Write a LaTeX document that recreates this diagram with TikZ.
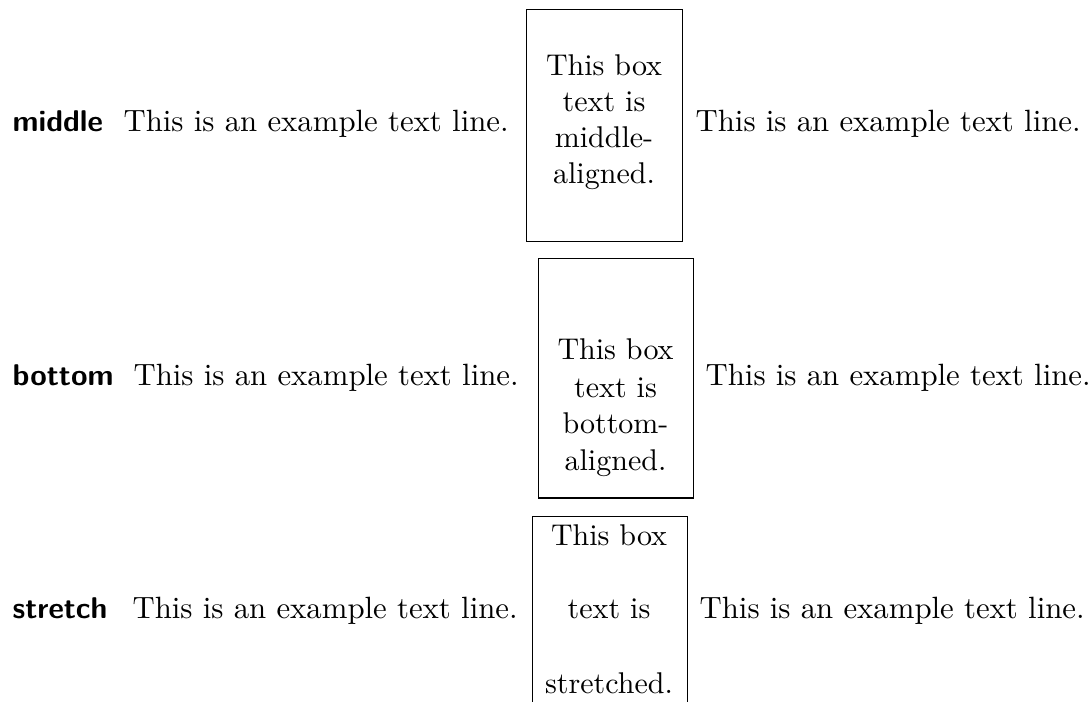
\documentclass[tikz,border=0pt]{standalone}
\usepackage{graphicx}
\newcommand{\exline}{\scalebox{1.026}{This is an example text line.}}
\begin{document}
\begin{tikzpicture}[x=0.33333pt,y=-0.33333pt,
  lbl/.style={inner sep=0pt,anchor=base west,font=\sffamily\bfseries},
  txt/.style={inner sep=0pt,anchor=base west},
  btxt/.style={inner sep=0pt,anchor=base},
  frame/.style={draw,line width=0.4pt,inner sep=0pt,anchor=north west}]
\useasboundingbox (0,0) rectangle (1090,702);
\clip (0,0) rectangle (1090,702);
% row 1: middle
\node[lbl] (l1) at (12,131.7) {middle};
\node[txt] (a1) at (123,132) {\exline};
\node[frame,minimum width=52pt,minimum height=77.17pt] (b1) at (526,9) {};
\node[btxt] (b1t1) at (604,76) {This box};
\node[btxt] (b1t2) at (604,112) {text is};
\node[btxt] (b1t3) at (604,148) {middle-};
\node[btxt] (b1t4) at (604,184) {aligned.};
\node[txt] (c1) at (695,132) {\exline};
% row 2: bottom
\node[lbl] (l2) at (12,385.7) {bottom};
\node[txt] (a2) at (133,385.7) {\exline};
\node[frame,minimum width=51.67pt,minimum height=79.83pt] (b2) at (538,258) {};
\node[btxt] (b2t1) at (615.5,360) {This box};
\node[btxt] (b2t2) at (615.5,397) {text is};
\node[btxt] (b2t3) at (615.5,433) {bottom-};
\node[btxt] (b2t4) at (615.5,470) {aligned.};
\node[txt] (c2) at (705,385.7) {\exline};
% row 3: stretch
\node[lbl] (l3) at (12,618) {stretch};
\node[txt] (a3) at (132,618) {\exline};
\node[frame,minimum width=51.5pt,minimum height=80pt] (b3) at (532,515.5) {};
\node[btxt] (b3t1) at (609,545) {This box};
\node[btxt] (b3t2) at (609,618) {text is};
\node[btxt] (b3t3) at (609,693) {stretched.};
\node[txt] (c3) at (699,618) {\exline};
\end{tikzpicture}
\end{document}
